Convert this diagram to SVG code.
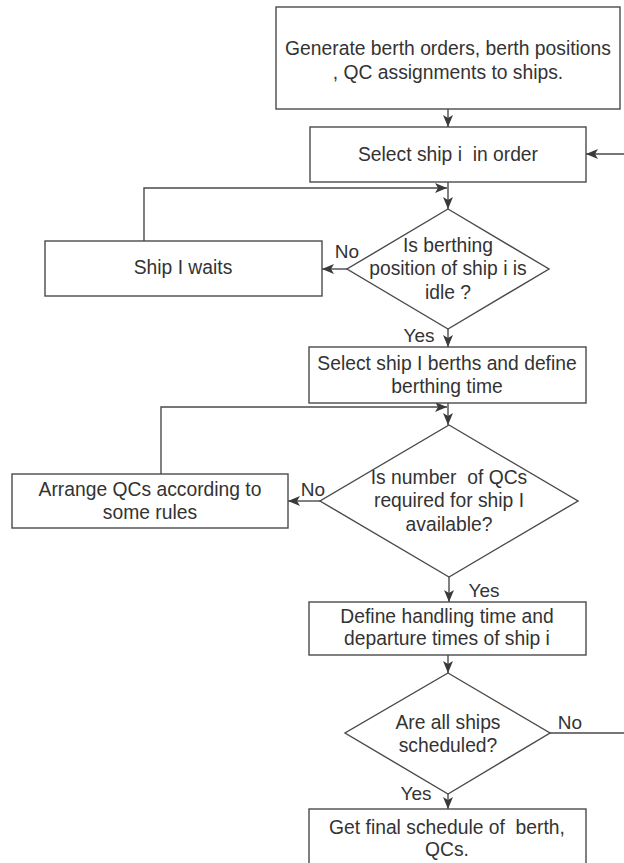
<svg xmlns="http://www.w3.org/2000/svg" width="624" height="863" viewBox="0 0 624 863">
<defs>
<marker id="ah" viewBox="0 0 12 10" refX="12" refY="5" markerWidth="12" markerHeight="10" markerUnits="userSpaceOnUse" orient="auto">
<path d="M0,0 L12,5 L0,10 L3,5 Z" fill="#3a3a3a"/>
</marker>
</defs>
<style>
.box{fill:#fff;stroke:#4a4a4a;stroke-width:1.4}
.t{font-family:"Liberation Sans",Arial,sans-serif;font-size:19.3px;fill:#333;text-anchor:middle}
.lab{font-family:"Liberation Sans",Arial,sans-serif;font-size:19px;fill:#333;text-anchor:middle}
.c{fill:none;stroke:#4a4a4a;stroke-width:1.4}
.ca{fill:none;stroke:#4a4a4a;stroke-width:1.4;marker-end:url(#ah)}
</style>
<rect width="624" height="863" fill="#fff"/>
<g id="connectors">
<path class="ca" d="M448,109 V127"/>
<path class="ca" d="M448,182 V209"/>
<path class="ca" d="M347,269 H322"/>
<path class="ca" d="M144,241 V188 H447"/>
<path class="ca" d="M448,329 V347"/>
<path class="ca" d="M448,403 V425"/>
<path class="ca" d="M161,474 V407 H447"/>
<path class="ca" d="M320,501 H288"/>
<path class="ca" d="M449,577 V602"/>
<path class="ca" d="M448,655 V673"/>
<path class="ca" d="M550,733 H626 V154 H586"/>
<path class="ca" d="M448,794 V809"/>
<text class="lab" x="347" y="258">No</text>
<text class="lab" x="419" y="342">Yes</text>
<text class="lab" x="313" y="496">No</text>
<text class="lab" x="484" y="597">Yes</text>
<text class="lab" x="570" y="729">No</text>
<text class="lab" x="416" y="800">Yes</text>
</g>
<g id="generate">
<rect class="box" x="276" y="7" width="344" height="102"/>
<text class="t" x="448" y="55">Generate berth orders, berth positions</text>
<text class="t" x="448" y="79">, QC assignments to ships.</text>
</g>
<g id="select-ship">
<rect class="box" x="310" y="127" width="276" height="55"/>
<text class="t" x="448" y="161" xml:space="preserve">Select ship i  in order</text>
</g>
<g id="is-idle">
<polygon class="box" points="448,209 549,269 448,329 347,269"/>
<text class="t" x="448" y="252">Is berthing</text>
<text class="t" x="448" y="275">position of ship i is</text>
<text class="t" x="448" y="299">idle ?</text>
</g>
<g id="ship-waits">
<rect class="box" x="45" y="241" width="277" height="55"/>
<text class="t" x="183" y="274">Ship I waits</text>
</g>
<g id="berths">
<rect class="box" x="309" y="347" width="277" height="56"/>
<text class="t" x="447" y="370">Select ship I berths and define</text>
<text class="t" x="447" y="393">berthing time</text>
</g>
<g id="qc-available">
<polygon class="box" points="449,425 578,501 449,577 320,501"/>
<text class="t" x="449" y="484" xml:space="preserve">Is number  of QCs</text>
<text class="t" x="449" y="507">required for ship I</text>
<text class="t" x="449" y="531">available?</text>
</g>
<g id="arrange">
<rect class="box" x="12" y="474" width="276" height="54"/>
<text class="t" x="150" y="496">Arrange QCs according to</text>
<text class="t" x="150" y="519">some rules</text>
</g>
<g id="define-times">
<rect class="box" x="309" y="602" width="277" height="53"/>
<text class="t" x="447" y="623">Define handling time and</text>
<text class="t" x="447" y="645">departure times of ship i</text>
</g>
<g id="all-scheduled">
<polygon class="box" points="448,673 550,733 448,794 345,733"/>
<text class="t" x="448" y="729">Are all ships</text>
<text class="t" x="448" y="752">scheduled?</text>
</g>
<g id="final">
<rect class="box" x="309" y="809" width="277" height="62"/>
<text class="t" x="447" y="834" xml:space="preserve">Get final schedule of  berth,</text>
<text class="t" x="447" y="856">QCs.</text>
</g>
</svg>
